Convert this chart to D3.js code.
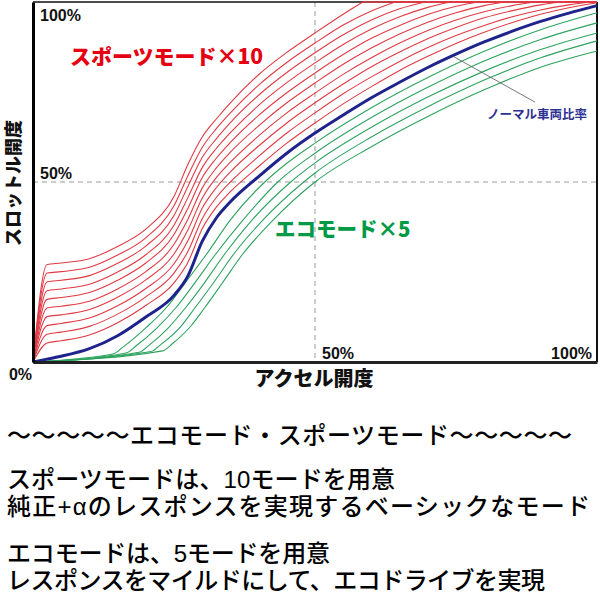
<!DOCTYPE html>
<html><head><meta charset="utf-8">
<script src="https://cdn.jsdelivr.net/npm/d3@7"></script>
<style>body{margin:0;background:#fff}svg{display:block}</style>
</head><body>
<script>
// ---------- data (accelerator % -> throttle %) ----------
const xGrid = [0, 2.5, 5, 10, 15, 20, 25, 27.5, 30, 32.5, 35, 40, 45, 50, 55, 60, 65, 70, 75, 80, 85, 90, 95, 100];
const normalRatio = [0, 0.8, 1.6, 3.7, 7.3, 12.5, 18.5, 24, 33.5, 40, 44.5, 51.5, 58, 63.6, 68.6, 73.4, 77.7, 81.8, 85.5, 88.9, 91.9, 94.6, 96.9, 99];

const sportLowX = [0, 2.5, 5, 10, 15, 20, 25, 27.5, 30, 32.5, 35, 40, 45, 50];
const sport1Low  = [0, 5.3, 5.9, 7.5, 10.9, 15.7, 22, 27.8, 37, 43, 47.3, 54.3, 60.8, 66.4];
const sport2Low  = [0, 7.7, 8.3, 9.9, 13.3, 18.1, 24.7, 30.8, 39.8, 45.7, 50, 57.1, 63.6, 69.2];
const sport3Low  = [0, 10.1, 10.7, 12.2, 15.6, 20.4, 27.3, 33.8, 42.7, 48.4, 52.8, 60, 66.4, 72];
const sport4Low  = [0, 12.6, 13.1, 14.6, 18, 22.8, 30, 36.8, 45.5, 51.2, 55.5, 62.8, 69.2, 74.7];
const sport5Low  = [0, 15, 15.5, 16.9, 20.3, 25.1, 32.7, 39.8, 48.3, 53.9, 58.3, 65.6, 72, 77.5];
const sport6Low  = [0, 17.4, 17.9, 19.3, 22.7, 27.5, 35.4, 42.8, 51.2, 56.6, 61, 68.5, 74.8, 80.3];
const sport7Low  = [0, 19.8, 20.3, 21.6, 25, 29.8, 38, 45.8, 54, 59.3, 63.7, 71.3, 77.6, 83.1];
const sport8Low  = [0, 22.2, 22.7, 24, 27.4, 32.2, 40.7, 48.9, 56.8, 62, 66.5, 74.1, 80.4, 85.9];
const sport9Low  = [0, 24.7, 25.1, 26.3, 29.7, 34.5, 43.4, 51.9, 59.6, 64.8, 69.2, 76.9, 83.2, 88.6];
const sport10Low = [0, 27.1, 27.5, 28.7, 32.1, 36.9, 46, 55, 62.5, 67.5, 72, 79.8, 86, 91.4];

// upper parts [x, y] until each curve reaches 100%
const sport1High  = [[55,71.7],[60,76.5],[65,81],[70,84.9],[75,88.5],[80,91.6],[85,94.3],[90,96.6],[95,98.4],[100,99.8]];
const sport2High  = [[55,74.5],[60,79.2],[65,83.5],[70,87.35],[75,90.7],[80,93.5],[85,95.9],[90,97.8],[95,99.2],[99,100]];
const sport3High  = [[55,77.2],[60,82],[65,86.1],[70,89.8],[75,92.9],[80,95.6],[85,97.6],[90,99.2],[93.6,100]];
const sport4High  = [[55,79.9],[60,84.5],[65,88.6],[70,92.1],[75,95],[80,97.3],[85,99],[89,100]];
const sport5High  = [[55,82.7],[60,87.2],[65,91.1],[70,94.4],[75,97],[80,99],[83.7,100]];
const sport6High  = [[55,85.4],[60,89.9],[65,93.5],[70,96.5],[75,98.8],[78.9,100]];
const sport7High  = [[55,88.2],[60,92.5],[65,95.9],[70,98.5],[74,100]];
const sport8High  = [[55,90.9],[60,95],[65,98.1],[69.5,100]];
const sport9High  = [[55,93.6],[60,97.5],[64.2,100]];
const sport10High = [[55,96.6],[58.5,100]];

const eco1 = [[0,0],[14.2,2.2],[16,4.2],[20,9.5],[23.6,15],[27,22],[30.8,30],[35,39.5],[41.1,50],[45,55.2],[50,60.8],[60,70.6],[70,79],[80,86.3],[90,92.3],[100,97]];
const eco2 = [[0,0],[16.5,2.5],[18.3,4.5],[22,9.5],[25.3,15],[28.7,22],[32.4,30],[37,39],[43.4,50],[50,58],[60,67.9],[70,76.3],[80,83.6],[90,89.6],[100,94.2]];
const eco3 = [[0,0],[18.8,2.7],[20.6,4.7],[24,9.5],[27,15],[30.4,22],[34,30],[38.6,39],[45.7,50],[50,55.3],[60,65.2],[70,73.6],[80,80.8],[90,86.8],[100,91.4]];
const eco4 = [[0,0],[20.9,2.9],[22.7,4.9],[26,9.5],[28.7,15],[32,22],[35.6,30],[40.5,39],[48,50],[50,52.5],[60,62.5],[70,70.9],[80,78.3],[90,84.5],[100,89.2]];
const eco5 = [[0,0],[23,3.1],[24.8,5.2],[28,10],[30.4,15],[33.6,22],[37.2,30],[42.3,39],[50,50],[60,59.8],[70,68.2],[80,75.6],[90,81.9],[100,86.4]];

const xTickValues = [0, 50, 100];
const xTickLabels = ["0%", "50%", "100%"];
const yTickValues = [50, 100];
const yTickLabels = ["50%", "100%"];
const xTitle = "アクセル開度";
const yTitle = "スロットル開度";
const sportLabel = "スポーツモード×10";
const ecoLabel = "エコモード×5";
const normalLabel = "ノーマル車両比率";
const noteLines = [
  "～～～～～エコモード・スポーツモード～～～～～",
  "スポーツモードは、10モードを用意",
  "純正+αのレスポンスを実現するベーシックなモード",
  "エコモードは、5モードを用意",
  "レスポンスをマイルドにして、エコドライブを実現"
];

// ---------- build ----------
const sportLows = [sport1Low, sport2Low, sport3Low, sport4Low, sport5Low, sport6Low, sport7Low, sport8Low, sport9Low, sport10Low];
const sportHighs = [sport1High, sport2High, sport3High, sport4High, sport5High, sport6High, sport7High, sport8High, sport9High, sport10High];
const sportModes = sportLows.map((low, i) => sportLowX.map((xv, j) => [xv, low[j]]).concat(sportHighs[i]));
const ecoModes = [eco1, eco2, eco3, eco4, eco5];
const normal = xGrid.map((xv, i) => [xv, normalRatio[i]]);

const W = 600, H = 600;
const svg = d3.select("body").append("svg").attr("width", W).attr("height", H);
const x = d3.scaleLinear().domain([0, 100]).range([33, 597]);
const y = d3.scaleLinear().domain([0, 100]).range([362, 2]);
const JP = "'Noto Sans CJK JP', sans-serif";
const NOTE = "'Liberation Sans', 'Noto Sans CJK JP', sans-serif";
const LAT = "'Liberation Sans', Arial, sans-serif";

// reference lines
svg.append("line").attr("x1", x(50)).attr("x2", x(50)).attr("y1", y(100)).attr("y2", y(0))
  .attr("stroke", "#9a9a9a").attr("stroke-width", 1).attr("stroke-dasharray", "5,4");
svg.append("line").attr("x1", x(0)).attr("x2", x(100)).attr("y1", y(50)).attr("y2", y(50))
  .attr("stroke", "#9a9a9a").attr("stroke-width", 1).attr("stroke-dasharray", "5,4");

// frame top/right
svg.append("line").attr("x1", x(0)).attr("x2", x(100)).attr("y1", y(100)).attr("y2", y(100))
  .attr("stroke", "#111").attr("stroke-width", 1.5);
svg.append("line").attr("x1", x(100)).attr("x2", x(100)).attr("y1", y(100)).attr("y2", y(0))
  .attr("stroke", "#111").attr("stroke-width", 2);

const curve = d3.line().x(d => x(d[0])).y(d => y(d[1])).curve(d3.curveMonotoneX);
const straight = d3.line().x(d => x(d[0])).y(d => y(d[1]));

const red = "#e03a44", green = "#2ea35e", navy = "#1f238c";
sportModes.forEach(pts => {
  svg.append("path").attr("d", curve(pts)).attr("fill", "none").attr("stroke", red).attr("stroke-width", 1.1);
  const last = pts[pts.length - 1];
  if (last[1] >= 100 && last[0] < 100) {
    svg.append("path").attr("d", straight([last, [100, 100]])).attr("fill", "none").attr("stroke", red).attr("stroke-width", 1.6);
  }
});
ecoModes.forEach(pts => {
  svg.append("path").attr("d", curve(pts)).attr("fill", "none").attr("stroke", green).attr("stroke-width", 1.1);
});
svg.append("path").attr("d", curve(normal)).attr("fill", "none").attr("stroke", navy).attr("stroke-width", 3);

// axes
const xAxis = svg.append("g").attr("transform", `translate(0,${y(0)})`)
  .call(d3.axisBottom(x).tickValues([]).tickSizeOuter(0));
xAxis.select(".domain").attr("stroke", "#222").attr("stroke-width", 3);
const yAxis = svg.append("g").attr("transform", `translate(${x(0)},0)`)
  .call(d3.axisLeft(y).tickValues([]).tickSizeOuter(0));
yAxis.select(".domain").attr("stroke", "#000").attr("stroke-width", 3);

// tick labels
const tickStyle = s => s.attr("font-family", LAT).attr("font-weight", "bold").attr("font-size", 16).attr("fill", "#111");
xTickValues.forEach((v, i) => {
  const t = svg.append("text").text(xTickLabels[i]).call(tickStyle);
  if (v === 0) t.attr("x", x(v) - 1).attr("y", y(0) + 18).attr("text-anchor", "end");
  else if (v === 100) t.attr("x", x(v) - 5).attr("y", y(0) - 3).attr("text-anchor", "end");
  else t.attr("x", x(v) + 7).attr("y", y(0) - 3);
});
yTickValues.forEach((v, i) => {
  svg.append("text").text(yTickLabels[i]).call(tickStyle)
    .attr("x", x(0) + 7).attr("y", v === 100 ? y(v) + 19 : y(v) - 3);
});

// titles
svg.append("text").text(xTitle).attr("x", 314).attr("y", 386).attr("text-anchor", "middle")
  .attr("font-family", JP).attr("font-weight", 900).attr("font-size", 20).attr("fill", "#111");
svg.append("text").text(yTitle).attr("transform", "translate(20,183) rotate(-90)").attr("text-anchor", "middle")
  .attr("font-family", JP).attr("font-weight", 900).attr("font-size", 18).attr("fill", "#111");

// mode labels
svg.append("text").text(sportLabel).attr("x", 70).attr("y", 64)
  .attr("font-family", JP).attr("font-weight", 900).attr("font-size", 21).attr("fill", "#e60012");
svg.append("text").text(ecoLabel).attr("x", 275).attr("y", 237)
  .attr("font-family", JP).attr("font-weight", 900).attr("font-size", 20.5).attr("fill", "#009a44");

// normal annotation
svg.append("line").attr("x1", x(74.5)).attr("y1", y(84.9)).attr("x2", x(89)).attr("y2", y(72.2))
  .attr("stroke", "#555").attr("stroke-width", 0.8);
svg.append("text").text(normalLabel).attr("x", x(80.5)).attr("y", 119)
  .attr("font-family", JP).attr("font-weight", "bold").attr("font-size", 12.5).attr("fill", "#2e3192");

// notes
const noteY = [444, 488, 515, 562, 589];
const noteW = [565, 388, 583, 323, 538];
noteLines.forEach((s, i) => {
  svg.append("text").text(s).attr("x", 7).attr("y", noteY[i])
    .attr("textLength", noteW[i]).attr("lengthAdjust", "spacing")
    .attr("font-family", NOTE).attr("font-weight", 500).attr("font-size", 24).attr("fill", "#000");
});
</script>
</body></html>
